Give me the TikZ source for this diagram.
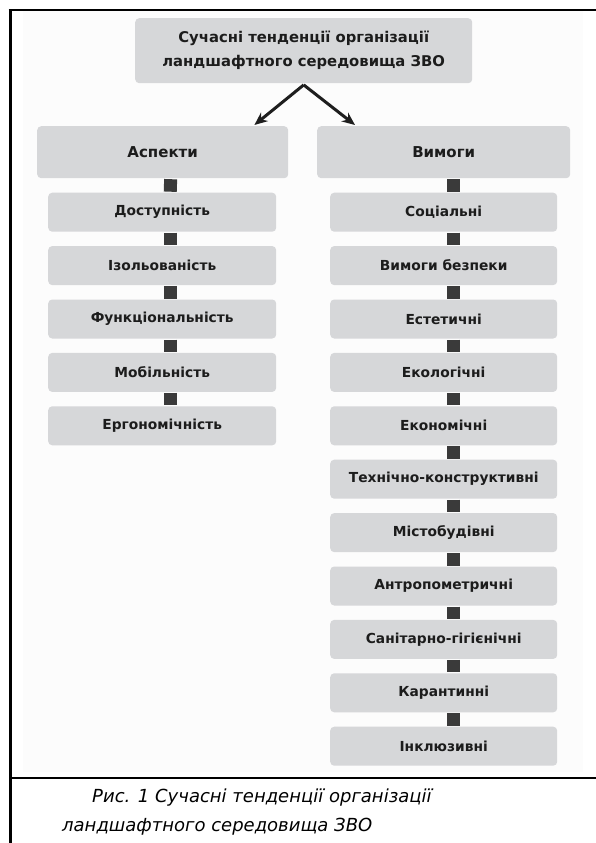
\documentclass[tikz,border=0pt]{standalone}
\usepackage{fontspec}
\setmainfont{DejaVu Sans}
\usetikzlibrary{arrows.meta}
\definecolor{boxgray}{RGB}{214,215,217}
\definecolor{bggray}{RGB}{252,252,252}
\definecolor{sqcol}{RGB}{58,58,58}
\definecolor{txtcol}{RGB}{28,28,28}
\definecolor{arrcol}{RGB}{30,30,30}
\tikzset{
  gbox/.style={fill=boxgray, rounded corners=4pt, inner sep=0pt, anchor=north west,
    text=txtcol, font=\bfseries\fontsize{15}{17}\selectfont},
  headbox/.style={gbox, minimum height=52pt},
  itembox/.style={gbox, minimum height=39pt, font=\bfseries\fontsize{13.8}{16}\selectfont},
  leftitem/.style={itembox, minimum width=228pt},
  rightitem/.style={itembox, minimum width=227pt},
  link/.style={draw=sqcol, line width=13pt, shorten <=0.8pt, shorten >=0.8pt},
  arr/.style={draw=arrcol, line width=3pt, -{Stealth[length=13pt,width=11pt]}},
  frameline/.style={draw=black},
  caption/.style={anchor=base west, inner sep=0pt, font=\itshape\fontsize{18}{20}\selectfont}
}
\begin{document}
\begin{tikzpicture}[x=1pt,y=-1pt]
\useasboundingbox (0,0) rectangle (596,843);
\fill[white] (0,0) rectangle (596,843);
\fill[bggray] (23,11) rectangle (583,772);
% frame
\draw[frameline, line width=3pt] (10,9.5) -- (10,843);
\draw[frameline, line width=1.5pt] (8.5,10) -- (596,10);
\draw[frameline, line width=1.4pt] (10,778) -- (596,778);

% top box
\node[gbox, minimum width=337pt, minimum height=65pt, align=center,
  font=\bfseries\fontsize{14.8}{24}\selectfont] (top) at (135,18)
  {Сучасні тенденції організації\\ландшафтного середовища ЗВО};

% heads
\node[headbox, minimum width=251pt] (asp) at (37,126) {Аспекти};
\node[headbox, minimum width=253pt] (vym) at (317,126) {Вимоги};

\coordinate (apex) at ([yshift=-1.5pt]top.south);
\draw[arr] (apex) -- ([xshift=-34pt,yshift=1pt]asp.north east);
\draw[arr] (apex) -- ([xshift=38pt,yshift=1pt]vym.north west);

% left items
\node[leftitem] (l1) at (48,192.5) {Доступність};
\node[leftitem] (l2) at (48,245.9) {Ізольованість};
\node[leftitem] (l3) at (48,299.3) {Функціональність};
\node[leftitem] (l4) at (48,352.7) {Мобільність};
\node[leftitem] (l5) at (48,406.1) {Ергономічність};

% right items
\node[rightitem] (r1) at (330,192.5) {Соціальні};
\node[rightitem] (r2) at (330,245.9) {Вимоги безпеки};
\node[rightitem] (r3) at (330,299.3) {Естетичні};
\node[rightitem] (r4) at (330,352.7) {Екологічні};
\node[rightitem] (r5) at (330,406.1) {Економічні};
\node[rightitem] (r6) at (330,459.5) {Технічно-конструктивні};
\node[rightitem] (r7) at (330,512.9) {Містобудівні};
\node[rightitem] (r8) at (330,566.3) {Антропометричні};
\node[rightitem] (r9) at (330,619.7) {Санітарно-гігієнічні};
\node[rightitem] (r10) at (330,673.1) {Карантинні};
\node[rightitem] (r11) at (330,726.5) {Інклюзивні};

% square links
\draw[link] ([xshift=8pt]asp.south) -- ([xshift=8pt]l1.north);
\foreach \a/\b in {l1/l2,l2/l3,l3/l4,l4/l5}
  \draw[link] ([xshift=8pt]\a.south) -- ([xshift=8pt]\b.north);
\draw[link] ([xshift=10pt]vym.south) -- ([xshift=10pt]r1.north);
\foreach \a/\b in {r1/r2,r2/r3,r3/r4,r4/r5,r5/r6,r6/r7,r7/r8,r8/r9,r9/r10,r10/r11}
  \draw[link] ([xshift=10pt]\a.south) -- ([xshift=10pt]\b.north);

% caption
\node[caption] (cap1) at (92,802) {Рис. 1 Сучасні тенденції організації};
\node[caption] (cap2) at (62,831) {ландшафтного середовища ЗВО};
\end{tikzpicture}
\end{document}
